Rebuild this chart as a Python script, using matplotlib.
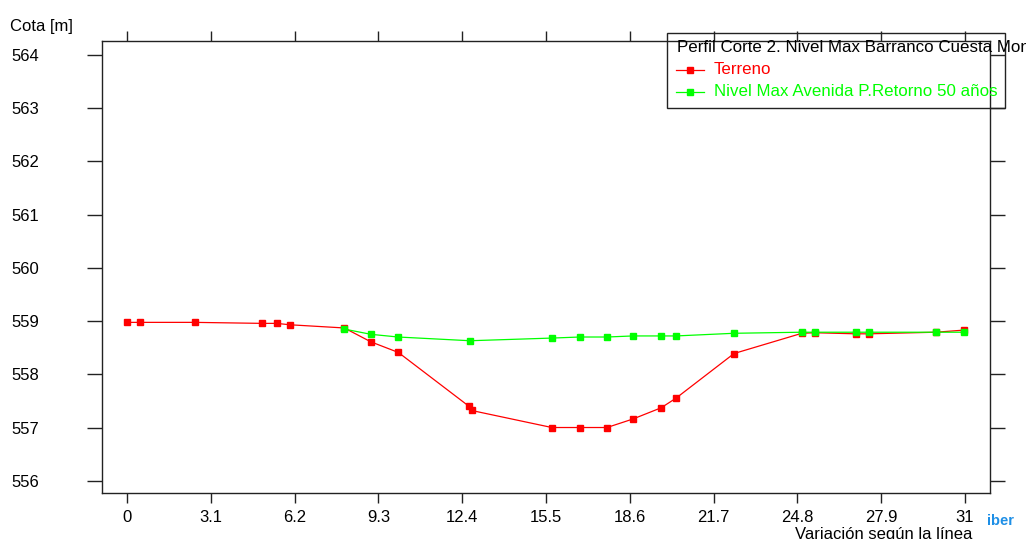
'''
Perfil transversal: terreno y nivel máximo de avenida (T = 50 años)
'''

import matplotlib.pyplot as plt
from matplotlib.lines import Line2D
from matplotlib.patches import Rectangle

plt.rcParams['font.family'] = ['Liberation Sans', 'DejaVu Sans']

# datos

TERRENO_X = [0.0, 0.49, 2.5, 5.01, 5.54, 6.02, 8.04, 9.02, 10.04, 12.65, 12.75,
             15.72, 16.76, 17.76, 18.72, 19.76, 20.31, 22.46, 24.97, 25.45,
             26.97, 27.45, 29.93, 30.97]
TERRENO_Z = [558.975, 558.975, 558.975, 558.956, 558.956, 558.93, 558.87, 558.61,
             558.41, 557.40, 557.32, 557.0, 557.0, 557.0, 557.16, 557.37, 557.55,
             558.39, 558.77, 558.78, 558.76, 558.76, 558.79, 558.83]

NIVEL_X = [8.03, 9.03, 10.03, 12.69, 15.72, 16.76, 17.76, 18.72, 19.76, 20.31,
           22.46, 24.97, 25.45, 26.97, 27.45, 29.93, 30.97]
NIVEL_Z = [558.85, 558.75, 558.70, 558.63, 558.68, 558.70, 558.70, 558.72,
           558.72, 558.72, 558.77, 558.79, 558.79, 558.79, 558.79, 558.79, 558.79]

X_TICKS = [0, 3.1, 6.2, 9.3, 12.4, 15.5, 18.6, 21.7, 24.8, 27.9, 31]
X_TICK_LABELS = ['0', '3.1', '6.2', '9.3', '12.4', '15.5', '18.6', '21.7', '24.8', '27.9', '31']
Y_TICKS = [556, 557, 558, 559, 560, 561, 562, 563, 564]

TITULO = 'Perfil Corte 2. Nivel Max Barranco Cuesta Mon'
ETIQUETAS = ['Terreno', 'Nivel Max Avenida P.Retorno 50 años']
ROJO = '#ff0000'
VERDE = '#00ff00'

W, H = 1026, 539


def px(x, y):
    '''pasa píxeles de la imagen a fracción de figura'''
    return x / W, 1 - y / H


fig = plt.figure(figsize=(W / 100, H / 100), dpi=100)
ax = fig.add_axes([102 / W, 1 - 493 / H, (990 - 102) / W, (493 - 41) / H])

ax.plot(TERRENO_X, TERRENO_Z, color=ROJO, lw=0.9, marker='s', ms=4.5, zorder=3)
ax.plot(NIVEL_X, NIVEL_Z, color=VERDE, lw=0.9, marker='s', ms=4.5, zorder=4)

ax.set_xlim(-0.925, 31.93)
ax.set_ylim(555.77, 564.26)
ax.set_xticks(X_TICKS)
ax.set_xticklabels(X_TICK_LABELS)
ax.set_yticks(Y_TICKS)

for s in ax.spines.values():
    s.set_color('#222222')
    s.set_linewidth(1.0)
    s.set_zorder(6)

ax.tick_params(axis='x', direction='out', length=7, width=1, top=True,
               labelsize=12, pad=5, color='#222222')
ax.tick_params(axis='y', direction='out', length=11, width=1, right=True,
               labelsize=12, pad=34, color='#222222')
for lab in ax.get_yticklabels():
    lab.set_horizontalalignment('right')

fig.text(*px(10, 27), 'Cota [m]', fontsize=12, va='center', ha='left')
fig.text(*px(972, 534), 'Variación según la línea', fontsize=12, va='center', ha='right')

# leyenda dibujada a mano (fondo transparente, los ejes pasan por encima)
x0, y0 = px(667, 108)
x1, y1 = px(1005, 33)
fig.add_artist(Rectangle((x0, y0), x1 - x0, y1 - y0, transform=fig.transFigure,
                         fill=False, edgecolor='#222222', lw=1.0, zorder=1))
fig.text(*px(677, 48), TITULO, fontsize=12.2, va='center', ha='left')
for i, (lab, col) in enumerate(zip(ETIQUETAS, [ROJO, VERDE])):
    yy = 70 + 22 * i
    (ax_, ay), (bx, by) = px(676, yy), px(704, yy)
    fig.add_artist(Line2D([ax_, bx], [ay, by], transform=fig.transFigure,
                          color=col, lw=0.9))
    mx, my = px(690, yy)
    fig.add_artist(Line2D([mx], [my], transform=fig.transFigure, color=col,
                          marker='s', ms=4.5, lw=0))
    fig.text(*px(714, yy), lab, fontsize=12.2, color=col, va='center', ha='left')

# marca "iber"
fig.text(*px(987, 521), 'iber', fontsize=10.5, color='#1e8fe6', weight='bold',
         va='center', ha='left')

fig.savefig('out.png', dpi=100)
